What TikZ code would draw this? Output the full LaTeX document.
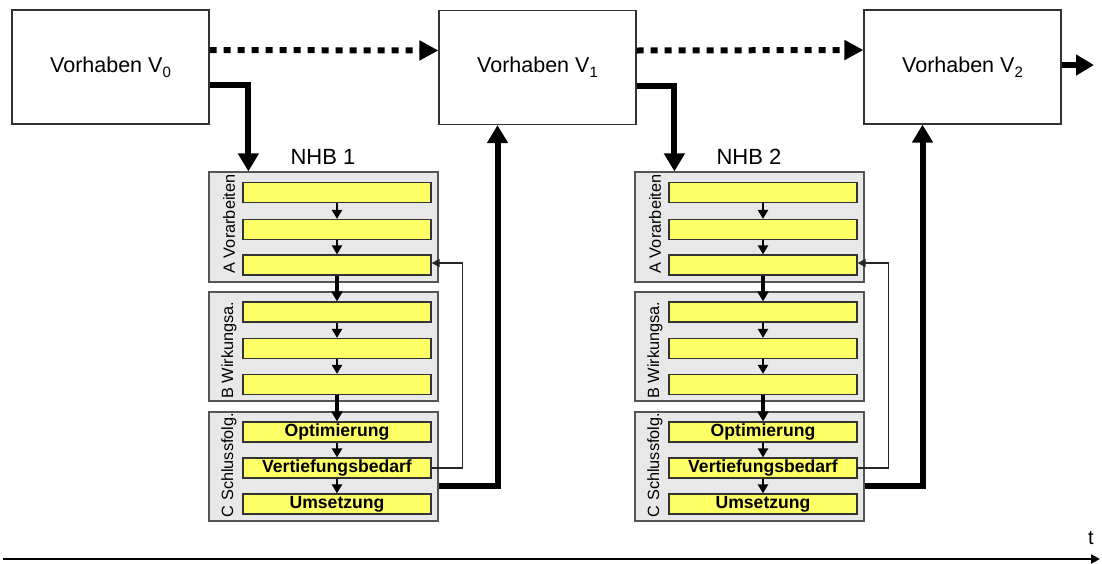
\documentclass[tikz,border=0pt]{standalone}
\usepackage{fontspec}
\setmainfont{Liberation Sans}
\usetikzlibrary{arrows.meta}
\definecolor{ybox}{HTML}{FFFF66}
\definecolor{gbox}{HTML}{E8E8E8}
\definecolor{gline}{HTML}{555555}
\newcommand\vsub[1]{\raisebox{-5pt}{\fontsize{15}{17}\selectfont #1}}
\tikzset{
 vbox/.style={draw=black!80, line width=1.2pt, fill=white, minimum width=197pt, minimum height=114pt, inner sep=0pt, font=\fontsize{21.5}{25}\selectfont},
 grp/.style={draw=gline, line width=1.2pt, fill=gbox, minimum width=229pt, minimum height=109pt, inner sep=0pt},
 yb/.style={draw=black!80, line width=1.2pt, fill=ybox, minimum width=188pt, minimum height=20pt, inner sep=0pt, font=\bfseries\fontsize{17.6}{20}\selectfont},
 sidelab/.style={rotate=90, inner sep=0pt, font=\fontsize{16.3}{19}\selectfont},
 grplab/.style={inner sep=0pt, font=\fontsize{22}{25}\selectfont},
 smallarr/.style={line width=2.4pt, -{Triangle[width=10pt,length=9pt]}},
 midarr/.style={line width=4pt, -{Triangle[width=11pt,length=10pt]}},
 thickarr/.style={line width=6pt, -{Triangle[width=20pt,length=18pt]}},
 dotarr/.style={line width=6pt, dash pattern=on 7pt off 7pt, -{Triangle[width=19pt,length=19pt]}},
 fbarr/.style={line width=1.1pt, draw=black!85, -{Triangle[width=8pt,length=8pt]}},
 axisarr/.style={line width=2.5pt, -{Triangle[width=9pt,length=9pt]}},
}
\newcommand\nhbgroup[2]{%
 \node[grp, minimum height=110pt] (#1A) at (323.5,227) {};
 \node[grp] (#1B) at (323.5,346.5) {};
 \node[grp] (#1C) at (323.5,466.5) {};
 \node[grplab] (#1lab) at (323,157) {#2};
 \node[sidelab] (#1la) at (229,224) {A Vorarbeiten};
 \node[sidelab] (#1lb) at (229,350) {B Wirkungsa.};
 \node[sidelab] (#1lc) at (229,465) {C Schlussfolg.};
 \node[yb] (#1a1) at (337,192.5) {};
 \node[yb] (#1a2) at (337,229.5) {};
 \node[yb] (#1a3) at (337,265) {};
 \node[yb] (#1b1) at (337,312) {};
 \node[yb] (#1b2) at (337,348.5) {};
 \node[yb] (#1b3) at (337,384.5) {};
 \node[yb] (#1c1) at (337,432) {Optimierung};
 \node[yb] (#1c2) at (337,468) {Vertiefungsbedarf};
 \node[yb] (#1c3) at (337,504) {Umsetzung};
 \draw[smallarr] (#1a1) -- (#1a2);
 \draw[smallarr] (#1a2) -- (#1a3);
 \draw[midarr] (#1a3) -- (#1b1);
 \draw[smallarr] (#1b1) -- (#1b2);
 \draw[smallarr] (#1b2) -- (#1b3);
 \draw[midarr] (#1b3) -- (#1c1);
 \draw[smallarr] (#1c1) -- (#1c2);
 \draw[smallarr] (#1c2) -- (#1c3);
 \draw[fbarr] (#1c2.east) -- ++(31,0) |- ([yshift=2pt]#1a3.east);
}
\begin{document}
\begin{tikzpicture}[x=1pt,y=-1pt]
\useasboundingbox (0,0) rectangle (1102,563);
\node[vbox] (V0) at (110.5,67) {Vorhaben V\vsub{0}};
\node[vbox] (V1) at (537.5,67.5) {Vorhaben V\vsub{1}};
\node[vbox] (V2) at (962.5,67) {Vorhaben V\vsub{2}};
\begin{scope}
\nhbgroup{g}{NHB 1}
\end{scope}
\begin{scope}[xshift=426pt]
\nhbgroup{h}{NHB 2}
\end{scope}
\draw[dotarr] ([yshift=17pt]V0.east) -- ([yshift=17pt]V1.west);
\draw[dotarr] ([yshift=17pt]V1.east) -- ([yshift=17pt]V2.west);
\coordinate (out) at (1094,65);
\draw[thickarr] ([yshift=2pt]V2.east) -- (out);
\draw[thickarr] ([yshift=-18pt]V0.east) -| ([xshift=40pt]gA.north west);
\draw[thickarr] ([yshift=-18pt]V1.east) -| ([xshift=40pt]hA.north west);
\draw[thickarr] ([yshift=-19.5pt]gC.east) -| ([xshift=-40pt]V1.south);
\draw[thickarr] ([yshift=-19.5pt]hC.east) -| ([xshift=-40pt]V2.south);
\coordinate (ax0) at (3,559);
\coordinate (ax1) at (1100,559);
\draw[axisarr] (ax0) -- (ax1);
\node[grplab, font=\fontsize{20}{24}\selectfont] (tlab) at (1091,538) {t};
\end{tikzpicture}
\end{document}
